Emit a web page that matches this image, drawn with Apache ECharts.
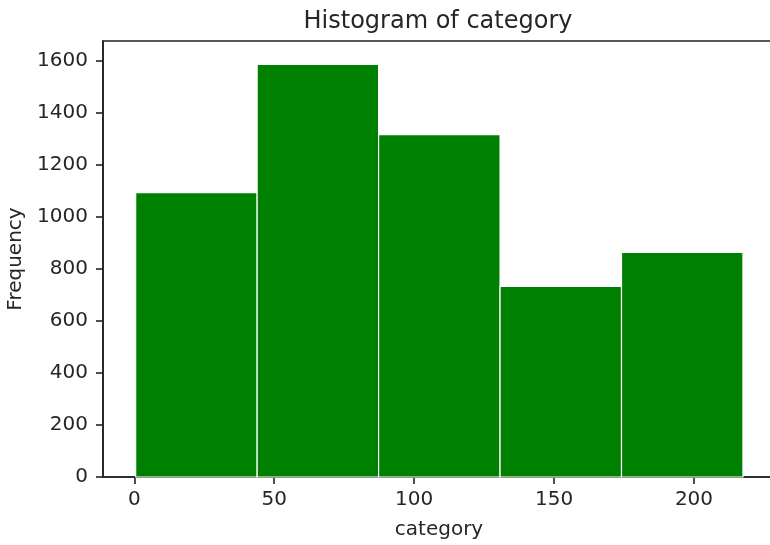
<!DOCTYPE html>
<html>
<head>
<meta charset="utf-8">
<script src="https://cdn.jsdelivr.net/npm/echarts@6/dist/echarts.min.js"></script>
<style>html,body{margin:0;padding:0;background:#fff;}#c{width:770px;height:545px;}</style>
</head>
<body>
<div id="c"></div>
<script>
const binEdges = [0.5, 43.9, 87.3, 130.7, 174.1, 217.5];
const counts = [1094, 1587, 1317, 733, 864];
const xTicks = [0, 50, 100, 150, 200];
const yTicks = [0, 200, 400, 600, 800, 1000, 1200, 1400, 1600];

const data = counts.map((c, i) => [binEdges[i], binEdges[i + 1], c]);
const FONT = 'DejaVu Sans';
const TXT = '#262626';
const plain = v => String(v);
const chart = echarts.init(document.getElementById('c'), null, {renderer: 'canvas'});
chart.setOption({
  animation: false,
  backgroundColor: '#fff',
  title: {
    text: 'Histogram of category',
    left: 438, top: 10, textAlign: 'center', padding: 0,
    textStyle: {fontFamily: FONT, fontSize: 24, fontWeight: 'normal', color: TXT}
  },
  grid: {
    left: 103, top: 41, width: 672, height: 436,
    show: true, borderColor: '#222', borderWidth: 1.6,
    outerBoundsMode: 'none'
  },
  xAxis: {
    type: 'value', min: -11.18, max: 228.95,
    name: 'category', nameLocation: 'middle', nameGap: 43,
    nameTextStyle: {fontFamily: FONT, fontSize: 20, color: TXT},
    splitLine: {show: false},
    axisLine: {show: true, onZero: false, lineStyle: {color: '#222', width: 1.6}},
    axisTick: {show: true, length: 7, lineStyle: {color: '#222', width: 1.6}, customValues: xTicks},
    axisLabel: {fontFamily: FONT, fontSize: 20, color: TXT, margin: 13, customValues: xTicks, formatter: plain}
  },
  yAxis: {
    type: 'value', min: 0, max: 1677,
    name: 'Frequency', nameLocation: 'middle', nameGap: 61,
    nameTextStyle: {fontFamily: FONT, fontSize: 20, color: TXT},
    splitLine: {show: false},
    axisLine: {show: true, onZero: false, lineStyle: {color: '#222', width: 1.6}},
    axisTick: {show: true, length: 7, lineStyle: {color: '#222', width: 1.6}, customValues: yTicks},
    axisLabel: {fontFamily: FONT, fontSize: 20, color: TXT, margin: 15, customValues: yTicks, formatter: plain}
  },
  series: [{
    type: 'custom',
    data: data,
    encode: {x: [0, 1], y: 2},
    renderItem: function (params, api) {
      const p0 = api.coord([api.value(0), api.value(2)]);
      const p1 = api.coord([api.value(1), 0]);
      return {
        type: 'rect',
        shape: {x: p0[0], y: p0[1], width: p1[0] - p0[0], height: p1[1] - p0[1]},
        style: {fill: '#008000', stroke: '#ffffff', lineWidth: 1.2}
      };
    }
  }]
});
</script>
</body>
</html>
